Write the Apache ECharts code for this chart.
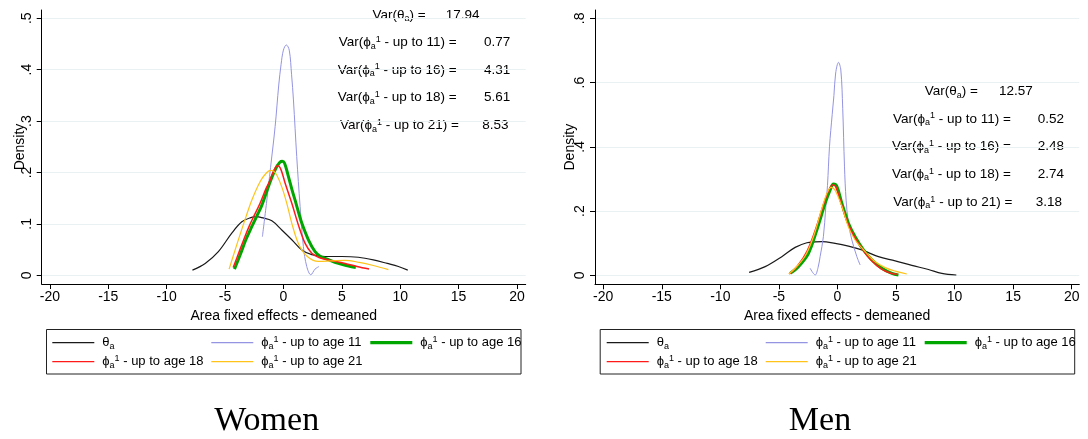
<!DOCTYPE html>
<html><head><meta charset="utf-8">
<script src="https://cdn.jsdelivr.net/npm/echarts@6/dist/echarts.min.js"></script>
<style>html,body{margin:0;padding:0;background:#fff}#c{width:1088px;height:439px}</style>
</head><body><div id="c"></div>
<script>
// ---------- data ----------
const xTicks = [-20, -15, -10, -5, 0, 5, 10, 15, 20];
const yTicksWomen = [0, 0.1, 0.2, 0.3, 0.4, 0.5];
const yTicksMen = [0, 0.2, 0.4, 0.6, 0.8];
const panelTitles = ['Women', 'Men'];
const xTitle = 'Area fixed effects - demeaned';
const yTitle = 'Density';
const seriesNames = ['θa', 'ϕa1 - up to age 11', 'ϕa1 - up to age 16', 'ϕa1 - up to age 18', 'ϕa1 - up to age 21'];
const varAges = ['', '11', '16', '18', '21'];
const womenVarValues = ['17.94', '0.77', '4.31', '5.61', '8.53'];
const menVarValues = ['12.57', '0.52', '2.48', '2.74', '3.18'];

const womenTheta = [[-7.79,.010],[-6.7,.023],[-5.57,.046],[-4.42,.082],[-3.56,.104],[-2.8,.112],[-2.28,.114],[-1.85,.112],[-0.99,.106],[-0.14,.088],[0.72,.069],[1.58,.049],[2.43,.040],[3.57,.0365],[5.0,.0365],[6.42,.035],[7.7,.030],[8.9,.023],[9.85,.017],[10.65,.010]];
const womenPhi11 = [[-1.80,.075],[-1.45,.14],[-1.1,.21],[-0.71,.289],[-0.4,.37],[-0.2,.41],[0,.438],[0.25,.448],[0.5,.438],[0.7,.39],[0.86,.341],[1.14,.231],[1.43,.134],[1.71,.056],[2.0,.017],[2.35,.001],[2.71,.012],[3.05,.017]];
const womenPhi16 = [[-4.19,.012],[-3.7,.04],[-3.2,.07],[-2.7,.095],[-2.3,.114],[-1.85,.136],[-1.4,.165],[-1.0,.19],[-0.6,.21],[-0.3,.220],[-0.1,.222],[0.1,.218],[0.43,.192],[0.75,.165],[1.0,.146],[1.3,.122],[1.58,.101],[2.14,.069],[2.71,.046],[3.2,.036],[3.57,.033],[4.71,.023],[5.57,.018],[6.2,.015]];
const womenPhi18 = [[-4.3,.015],[-3.8,.045],[-3.3,.075],[-2.9,.097],[-2.55,.114],[-2.0,.14],[-1.5,.168],[-1.2,.182],[-0.9,.2],[-0.6,.212],[-0.45,.213],[-0.2,.205],[0.15,.179],[0.72,.14],[1.28,.098],[1.86,.062],[2.43,.043],[3.0,.035],[3.57,.031],[5.28,.023],[6.3,.017],[7.34,.012]];
const womenPhi21 = [[-4.65,.012],[-4.14,.049],[-3.7,.08],[-3.2,.114],[-2.71,.146],[-2.0,.182],[-1.5,.198],[-1.1,.204],[-0.85,.203],[-0.57,.195],[-0.14,.172],[0.29,.14],[0.72,.101],[1.28,.062],[2.0,.0375],[3.0,.027],[4.14,.028],[5.28,.029],[6.5,.025],[7.7,.019],[8.99,.011]];

const menTheta = [[-7.54,.009],[-6.17,.027],[-4.75,.058],[-3.61,.087],[-2.61,.1015],[-1.9,.104],[-1.33,.105],[-0.2,.0996],[0.94,.091],[2.08,.079],[3.5,.058],[4.93,.045],[6.35,.031],[7.77,.018],[8.91,.006],[10.15,.001]];
const menPhi11 = [[-2.33,.022],[-2.1,.008],[-1.9,.001],[-1.65,.025],[-1.48,.058],[-1.2,.12],[-1.0,.21],[-0.85,.28],[-0.68,.40],[-0.45,.50],[-0.3,.56],[-0.15,.63],[0.09,.663],[0.29,.639],[0.45,.52],[0.6,.34],[0.74,.234],[0.94,.162],[1.23,.11],[1.66,.058],[1.94,.032]];
const menPhi16 = [[-4.04,.006],[-3.33,.027],[-2.48,.068],[-1.76,.141],[-1.05,.224],[-0.62,.266],[-0.34,.284],[-0.05,.277],[0.38,.224],[0.94,.162],[1.51,.12],[2.22,.079],[2.94,.048],[3.79,.022],[4.65,.006],[5.21,.001]];
const menPhi18 = [[-4.12,.004],[-3.4,.03],[-2.6,.075],[-1.85,.145],[-1.15,.225],[-0.7,.268],[-0.4,.281],[-0.15,.276],[0.3,.226],[0.85,.165],[1.45,.12],[2.2,.078],[2.9,.046],[3.7,.021],[4.5,.007],[5.07,.003]];
const menPhi21 = [[-4.15,.004],[-3.61,.022],[-2.76,.06],[-2.05,.12],[-1.33,.208],[-0.9,.255],[-0.54,.274],[-0.2,.265],[0.38,.214],[0.94,.15],[1.51,.11],[2.37,.074],[3.22,.042],[4.07,.024],[4.93,.013],[5.92,.004]];

// ---------- styling ----------
const FF = "'Liberation Sans','DejaVu Sans',sans-serif";
const colors = ['#1a1a1a', '#9494e2', '#00a600', '#ff1a1a', '#ffc31a'];
const widths = [1.2, 1, 3, 1.5, 1.2];
const panels = [
  {grid: {left: 41.7, top: 10, width: 484, height: 274}, xMin: -20.7, xMax: 20.75, yMin: -0.017, yMax: 0.516, yTicks: yTicksWomen,
   data: [womenTheta, womenPhi11, womenPhi16, womenPhi18, womenPhi21], values: womenVarValues, yNameGap: 15,
   labelRight: [425.7, 456.7, 456.7, 456.7, 459], valueLeft: [445.7, 484, 484, 484, 482.3], ys: [15, 42.7, 70, 97.7, 125.7],
   legendLeft: 52.3, boxLeft: 46, titleX: 266.7},
  {grid: {left: 595, top: 10, width: 484.3, height: 274.3}, xMin: -20.7, xMax: 20.65, yMin: -0.028, yMax: 0.826, yTicks: yTicksMen,
   data: [menTheta, menPhi11, menPhi16, menPhi18, menPhi21], values: menVarValues, yNameGap: 18,
   labelRight: [978, 1011, 1011, 1011, 1012.3], valueLeft: [999, 1037.7, 1037.7, 1037.7, 1035.7], ys: [91.7, 119, 146.7, 174.3, 202.3],
   legendLeft: 606.7, boxLeft: 599.7, titleX: 820}
];

function legendFmt(name) {
  if (name.charAt(0) === 'θ') return '{f|θ}{s|a}';
  return '{f|ϕ}{s|a}{u|1}{n|' + name.slice(3) + '}';
}
const legendRich = {
  f: {fontSize: 13, fontFamily: FF, color: '#000', lineHeight: 19, padding: [0, 0, 0, 3]},
  n: {fontSize: 13, fontFamily: FF, color: '#000', lineHeight: 19},
  s: {fontSize: 9, fontFamily: FF, color: '#000', lineHeight: 19, padding: [7, 0, 0, 0]},
  u: {fontSize: 9, fontFamily: FF, color: '#000', lineHeight: 19, padding: [0, 0, 6, 0]}
};
const annRich = {
  n: {fontSize: 13.5, fontFamily: FF, color: '#000', lineHeight: 18},
  s: {fontSize: 9, fontFamily: FF, color: '#000', lineHeight: 18, padding: [7, 0, 0, 0]},
  u: {fontSize: 9, fontFamily: FF, color: '#000', lineHeight: 18, padding: [0, 0, 6, 0]}
};
function annLabel(i) {
  if (i === 0) return '{n|Var(θ}{s|a}{n|) =}';
  return '{n|Var(ϕ}{s|a}{u|1}{n| - up to ' + varAges[i] + ') =}';
}

const option = {
  animation: false,
  backgroundColor: '#fff',
  grid: panels.map(p => p.grid),
  xAxis: panels.map((p, i) => ({
    type: 'value', gridIndex: i, min: p.xMin, max: p.xMax,
    axisLine: {show: true, onZero: false, lineStyle: {color: '#000', width: 1}},
    axisTick: {show: true, customValues: xTicks, length: 5, lineStyle: {color: '#000', width: 1}},
    axisLabel: {customValues: xTicks, fontSize: 14, fontFamily: FF, color: '#000', margin: 6},
    splitLine: {show: false},
    name: xTitle, nameLocation: 'middle', nameGap: 23,
    nameTextStyle: {fontSize: 14, fontFamily: FF, color: '#000'}
  })),
  yAxis: panels.map((p, i) => ({
    type: 'value', gridIndex: i, min: p.yMin, max: p.yMax,
    axisLine: {show: true, onZero: false, lineStyle: {color: '#000', width: 1}},
    axisTick: {show: true, customValues: p.yTicks, length: 5, lineStyle: {color: '#000', width: 1}},
    axisLabel: {customValues: p.yTicks, rotate: 90, fontSize: 14, fontFamily: FF, color: '#000', margin: 8,
      formatter: v => (Math.abs(v) < 1e-9 ? '0' : String(+v.toFixed(2)).replace(/^0\./, '.'))},
    splitLine: {show: true, lineStyle: {color: '#e9f1f3', width: 1}},
    name: yTitle, nameLocation: 'middle', nameGap: p.yNameGap, nameMoveOverlap: false,
    nameTextStyle: {fontSize: 14, fontFamily: FF, color: '#000'}
  })),
  legend: panels.map(p => ({
    left: p.legendLeft, top: 333.2, width: 480, padding: 0, itemGap: 0, itemWidth: 42, itemHeight: 19,
    selectedMode: false, orient: 'horizontal',
    data: seriesNames.map((n, k) => ({
      name: n,
      icon: k === 2 ? 'path://M0,0L42,0L42,3.2L0,3.2Z' : 'path://M0,0L42,0L42,1.3L0,1.3Z',
      itemStyle: {color: colors[k], borderWidth: 0}
    })),
    formatter: legendFmt,
    textStyle: {width: 112, fontSize: 13, fontFamily: FF, color: '#000', lineHeight: 19, rich: legendRich}
  })),
  series: [],
  graphic: []
};

panels.forEach((p, i) => {
  p.data.forEach((d, k) => {
    option.series.push({
      type: 'line', name: seriesNames[k], xAxisIndex: i, yAxisIndex: i, data: d,
      showSymbol: false, symbol: 'none', smooth: 0.35,
      lineStyle: {color: colors[k], width: widths[k]}, itemStyle: {color: colors[k]},
      emphasis: {disabled: true}, z: 2 + k
    });
  });
  // legend frame
  option.graphic.push({type: 'rect', shape: {x: p.boxLeft + 0.5, y: 329.5, width: 474.5, height: 44.5},
    style: {fill: 'none', stroke: '#222', lineWidth: 1}, z: 1, silent: true});
  // variance annotations
  for (let j = 0; j < 5; j++) {
    option.graphic.push({type: 'text', x: p.labelRight[j], y: p.ys[j], silent: true,
      style: {text: annLabel(j), rich: annRich, align: 'right', textAlign: 'right', verticalAlign: 'middle', textVerticalAlign: 'middle', fill: '#000', fontSize: 13.5, fontFamily: FF}});
    option.graphic.push({type: 'text', x: p.valueLeft[j], y: p.ys[j], silent: true,
      style: {text: p.values[j], align: 'left', textAlign: 'left', verticalAlign: 'middle', textVerticalAlign: 'middle', fill: '#000', fontSize: 13.5, fontFamily: FF}});
  }
  // panel caption
  option.graphic.push({type: 'text', x: p.titleX, y: 421, silent: true,
    style: {text: panelTitles[i], align: 'center', textAlign: 'center', verticalAlign: 'middle', textVerticalAlign: 'middle', fill: '#000', fontSize: 34, fontFamily: "'Liberation Serif','DejaVu Serif',serif"}});
});

const chart = echarts.init(document.getElementById('c'), null, {renderer: 'canvas'});
chart.setOption(option);
</script>
</body></html>
